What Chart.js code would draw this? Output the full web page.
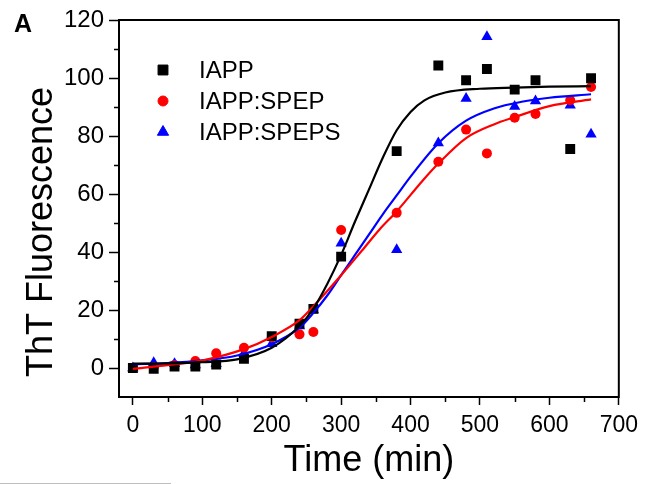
<!DOCTYPE html>
<html>
<head>
<meta charset="utf-8">
<script src="https://cdn.jsdelivr.net/npm/chart.js@4.4.1/dist/chart.umd.min.js"></script>
<style>
  html, body { margin: 0; padding: 0; background: #fff; }
  #wrap { position: relative; width: 645px; height: 484px; }
</style>
</head>
<body>
<div id="wrap"><canvas id="thtChart" width="645" height="484"></canvas></div>
<script>
// measured time points (min)
const times = [0, 30, 60, 90, 120, 160, 200, 240, 260, 300, 380, 440, 480, 510, 550, 580, 630, 660];
const iappValues   = [0, -0.3, 0.5, 0.5, 1.2, 3.2, 11, 15.3, 20.4, 38.4, 74.8, 104.3, 99.2, 103.1, 96, 99.2, 75.5, 99.9];
const spepValues   = [0, 0.3, 1, 2.4, 5.1, 7, 10.5, 11.6, 12.4, 47.6, 53.5, 71.1, 82.2, 74, 86.3, 87.6, 92.3, 96.9];
const spepsValues  = [0, 1.8, 1.5, 1, 1.5, 5, 8.4, 14.5, 20, 43, 40.8, 77.6, 92.9, 114.2, 90.2, 92.1, 90.6, 80.6];

// fitted curves
const fitIappX  = [0, 50, 100, 150, 200, 240, 260, 280, 300, 320, 340, 360, 380, 400, 420, 450, 500, 550, 600, 660];
const fitIappY  = [1.5, 1.6, 2, 3, 7, 14.5, 20.5, 29, 39, 50.5, 61.5, 72.5, 82, 88.3, 92.3, 95, 96.3, 96.7, 97, 97.2];
const fitSpepX  = [0, 50, 100, 160, 200, 240, 260, 300, 330, 355, 380, 417, 440, 480, 520, 550, 600, 660];
const fitSpepY  = [-0.3, 1, 2.6, 6.5, 10.7, 16.5, 21.3, 32, 40.5, 47.7, 54, 64.5, 70.5, 79.3, 84, 86.5, 90.3, 92.6];
const fitSpepsX = [0, 50, 100, 150, 200, 240, 260, 280, 300, 320, 340, 360, 380, 400, 440, 480, 520, 560, 600, 660];
const fitSpepsY = [1.3, 1.7, 2.6, 4.3, 8.2, 13.9, 19, 25, 32, 39, 46, 53, 59.5, 66, 77.5, 85.3, 89.5, 91.8, 93.2, 94.4];

const seriesLabels = ['IAPP', 'IAPP:SPEP', 'IAPP:SPEPS'];
const xTicks = [0, 100, 200, 300, 400, 500, 600, 700];
const xMinor = [50, 150, 250, 350, 450, 550, 650];
const yTicks = [0, 20, 40, 60, 80, 100, 120];
const yMinor = [10, 30, 50, 70, 90, 110];
const yTitle = 'ThT Fluorescence';

const FONT = "'Liberation Sans', Arial, sans-serif";

function pts(xs, ys) {
  return xs.map((x, i) => ({ x: x, y: ys[i] }));
}

function fitLine(xs, ys, color) {
  return {
    type: 'line',
    data: pts(xs, ys),
    borderColor: color,
    borderWidth: 2.2,
    pointRadius: 0,
    cubicInterpolationMode: 'monotone',
    fill: false,
    isFit: true
  };
}

// frame, minor ticks, legend, y title, panel letter
const decorPlugin = {
  id: 'decor',
  afterDraw(chart) {
    const ctx = chart.ctx;
    const a = chart.chartArea;
    const xs = chart.scales.x, ys = chart.scales.y;
    ctx.save();
    ctx.strokeStyle = '#000';
    ctx.lineWidth = 2;
    ctx.strokeRect(a.left, a.top, a.right - a.left, a.bottom - a.top);

    ctx.lineWidth = 1.5;
    ctx.beginPath();
    xMinor.forEach(v => {
      const px = Math.round(xs.getPixelForValue(v)) + 0.5;
      ctx.moveTo(px, a.bottom);
      ctx.lineTo(px, a.bottom + 5);
    });
    yMinor.forEach(v => {
      const py = Math.round(ys.getPixelForValue(v)) + 0.5;
      ctx.moveTo(a.left, py);
      ctx.lineTo(a.left - 5, py);
    });
    ctx.stroke();

    // legend
    ctx.font = '24px ' + FONT;
    ctx.textBaseline = 'middle';
    const scatterSets = chart.data.datasets.filter(d => !d.isFit);
    scatterSets.forEach((d, i) => {
      const y = 70 + i * 31;
      ctx.fillStyle = d.backgroundColor;
      ctx.strokeStyle = d.backgroundColor;
      ctx.lineWidth = 1;
      Chart.helpers.drawPoint(ctx, {
        pointStyle: d.pointStyle, radius: d.pointRadius, rotation: 0, borderWidth: 1
      }, 163, y);
      ctx.fillStyle = '#000';
      ctx.fillText(d.label, 199, y + 1);
    });

    // y axis title, sits a little below the middle of the axis
    ctx.save();
    ctx.translate(52, 232);
    ctx.rotate(-Math.PI / 2);
    ctx.font = '36px ' + FONT;
    ctx.textAlign = 'center';
    ctx.textBaseline = 'alphabetic';
    ctx.fillStyle = '#000';
    ctx.fillText(yTitle, 0, 0);
    ctx.restore();

    ctx.font = 'bold 25px ' + FONT;
    ctx.textBaseline = 'alphabetic';
    ctx.fillStyle = '#000';
    ctx.fillText('A', 14, 32);

    // scanner edge line at the bottom
    ctx.strokeStyle = '#bdbdbd';
    ctx.lineWidth = 1;
    ctx.beginPath();
    ctx.moveTo(0, 483.5);
    ctx.lineTo(171, 483.5);
    ctx.stroke();
    ctx.restore();
  }
};

const ctx = document.getElementById('thtChart').getContext('2d');
new Chart(ctx, {
  type: 'scatter',
  data: {
    datasets: [
      fitLine(fitIappX, fitIappY, '#000000'),
      fitLine(fitSpepX, fitSpepY, '#ff0000'),
      fitLine(fitSpepsX, fitSpepsY, '#0000ff'),
      {
        label: seriesLabels[0],
        data: pts(times, iappValues),
        pointStyle: 'rect',
        pointRadius: 7,
        backgroundColor: '#000000',
        borderColor: '#000000',
        borderWidth: 0
      },
      {
        label: seriesLabels[1],
        data: pts(times, spepValues),
        pointStyle: 'circle',
        pointRadius: 5,
        backgroundColor: '#ff0000',
        borderColor: '#ff0000',
        borderWidth: 0
      },
      {
        label: seriesLabels[2],
        data: pts(times, spepsValues),
        pointStyle: 'triangle',
        pointRadius: 6.5,
        backgroundColor: '#0000ff',
        borderColor: '#0000ff',
        borderWidth: 0
      }
    ]
  },
  options: {
    responsive: false,
    animation: false,
    layout: { padding: { top: 20, right: 25, left: 0, bottom: 0 } },
    plugins: {
      legend: { display: false },
      tooltip: { enabled: false }
    },
    scales: {
      x: {
        type: 'linear',
        min: -20,
        max: 700,
        afterBuildTicks: s => { s.ticks = xTicks.map(v => ({ value: v })); },
        afterFit: s => { s.height = 87; },
        grid: { drawOnChartArea: false, tickLength: 8, tickWidth: 1.5, tickColor: '#000' },
        border: { color: '#000', width: 2 },
        ticks: { color: '#000', font: { family: FONT, size: 23 }, padding: 7, maxRotation: 0 },
        title: { display: true, text: 'Time (min)', color: '#000', font: { family: FONT, size: 36 }, padding: { top: 0, bottom: 1 } }
      },
      y: {
        type: 'linear',
        min: -10,
        max: 120,
        afterBuildTicks: s => { s.ticks = yTicks.map(v => ({ value: v })); },
        afterFit: s => { s.width = 119; },
        grid: { drawOnChartArea: false, tickLength: 10, tickWidth: 1.5, tickColor: '#000' },
        border: { color: '#000', width: 2 },
        ticks: { color: '#000', font: { family: FONT, size: 24 }, padding: 5 },
        title: { display: false }
      }
    }
  },
  plugins: [decorPlugin]
});
</script>
</body>
</html>
